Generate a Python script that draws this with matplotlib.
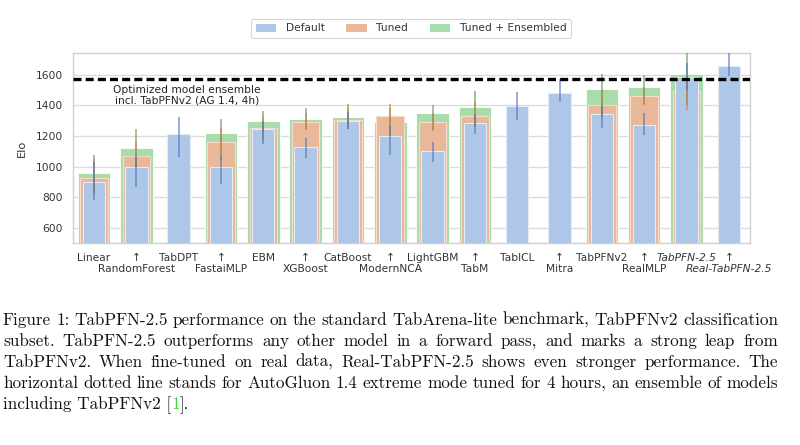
import numpy as np
import matplotlib
matplotlib.use("Agg")
import matplotlib.pyplot as plt
from matplotlib.patches import Patch

# ---------------- data ----------------
models = ["Linear", "RandomForest", "TabDPT", "FastaiMLP", "EBM", "XGBoost",
          "CatBoost", "ModernNCA", "LightGBM", "TabM", "TabICL", "Mitra",
          "TabPFNv2", "RealMLP", "TabPFN-2.5", "Real-TabPFN-2.5"]
italic_models = ["TabPFN-2.5", "Real-TabPFN-2.5"]
nan = np.nan
default_elo = [900, 1000, 1212, 1000, 1247, 1127, 1300, 1202, 1104, 1287, 1398, 1481, 1343, 1275, 1588, 1657]
default_lo  = [780, 868, 1062, 885, 1150, 1058, 1245, 1073, 1030, 1215, 1302, 1420, 1252, 1205, 1500, 1592]
default_hi  = [1030, 1070, 1325, 1060, 1300, 1188, 1360, 1265, 1162, 1335, 1487, 1575, 1400, 1350, 1680, 1745]
tuned_elo = [925, 1072, nan, 1162, 1255, 1292, 1305, 1330, 1292, 1332, nan, nan, 1405, 1460, 1492, nan]
tuned_lo  = [820, 990, nan, 1070, 1165, 1240, 1250, 1240, 1230, 1260, nan, nan, 1320, 1400, 1370, nan]
tuned_hi  = [1050, 1160, nan, 1250, 1330, 1350, 1380, 1412, 1350, 1420, nan, nan, 1500, 1520, 1560, nan]
ens_elo = [955, 1123, nan, 1220, 1297, 1308, 1326, 1293, 1348, 1390, nan, nan, 1510, 1520, 1607, nan]
ens_lo  = [830, 1000, nan, 1040, 1215, 1236, 1247, 1200, 1236, 1260, nan, nan, 1325, 1412, 1400, nan]
ens_hi  = [1078, 1248, nan, 1310, 1365, 1385, 1408, 1380, 1405, 1495, nan, nan, 1607, 1598, 1760, nan]
ag_ensemble_elo = 1575
series_names = ["Default", "Tuned", "Tuned + Ensembled"]
yticks = [600, 800, 1000, 1200, 1400, 1600]
caption_lines = [
    "Figure 1: TabPFN-2.5 performance on the standard TabArena-lite benchmark, TabPFNv2 classification",
    "subset.  TabPFN-2.5 outperforms any other model in a forward pass, and marks a strong leap from",
    "TabPFNv2.  When fine-tuned on real data, Real-TabPFN-2.5 shows even stronger performance.  The",
    "horizontal dotted line stands for AutoGluon 1.4 extreme mode tuned for 4 hours, an ensemble of models",
]
caption_last = [("including TabPFNv2 [", "#111111"), ("1", "#33dd33"), ("].", "#111111")]

# ---------------- style ----------------
c_blue, c_tan, c_green = "#aec6e8", "#e8b898", "#a8dcaa"
e_blue, e_tan, e_green = "#4f76c0", "#d0804a", "#5c9a55"
txt = "#333333"
fs = 7.7

fig = plt.figure(figsize=(8, 4.45), dpi=100)
ax = fig.add_axes([0.091, 0.454, 0.8465, 0.4276])

x = np.arange(len(models))
d = np.array(default_elo, float)
t = np.array(tuned_elo, float)
e = np.array(ens_elo, float)

ax.bar(x, e, width=0.77, color=c_green, edgecolor="white", linewidth=0.6, zorder=2)
ax.bar(x, t, width=0.65, color=c_tan, edgecolor="#f6dccb", linewidth=0.8, zorder=3)
ax.bar(x, d, width=0.53, color=c_blue, edgecolor="#e4ecf8", linewidth=0.8, zorder=4)

def eb(vals, lo, hi, col, z):
    v = np.array(vals, float)
    lo = np.array(lo, float)
    hi = np.array(hi, float)
    ax.errorbar(x, v, yerr=[v - lo, hi - v], fmt="none", ecolor=col,
                elinewidth=1.1, alpha=0.75, capsize=0, zorder=z)

eb(ens_elo, ens_lo, ens_hi, e_green, 5)
eb(tuned_elo, tuned_lo, tuned_hi, e_tan, 6)
eb(default_elo, default_lo, default_hi, e_blue, 7)

ax.axhline(ag_ensemble_elo, color="black", lw=2.4, linestyle=(0, (2.4, 1.25)), zorder=8)
ax.text(2.2, 1465, "Optimized model ensemble\nincl. TabPFNv2 (AG 1.4, 4h)",
        ha="center", va="center", fontsize=fs, color="#222222", linespacing=1.0, zorder=9)

ax.set_xlim(-0.5, len(models) - 0.5)
ax.set_ylim(500, 1745)
ax.set_yticks(yticks)
ax.set_yticklabels([str(v) for v in yticks], fontsize=fs, color=txt)
ax.grid(axis="y", color="#dcdcdc", lw=1.0, zorder=0)
ax.set_axisbelow(True)
for s in ax.spines.values():
    s.set_color("#d0d0d0")
    s.set_linewidth(1.0)
ax.tick_params(axis="both", length=0)
ax.tick_params(axis="y", pad=7)
ax.set_ylabel("Elo", fontsize=8.2, color=txt, labelpad=6)

# x tick labels: alternate rows, arrow marks the shifted ones
ax.set_xticks(x)
ax.set_xticklabels([""] * len(models))
xtr = ax.get_xaxis_transform()
row1_y, row2_y = -0.078, -0.139
for i, m in enumerate(models):
    style = "italic" if m in italic_models else "normal"
    if i % 2 == 0:
        ax.text(i, row1_y, m, transform=xtr, ha="center", va="center",
                fontsize=fs, color=txt, fontstyle=style)
    else:
        ax.text(i, row1_y, "\u2191", transform=xtr, ha="center", va="center",
                fontsize=fs, color=txt)
        ax.text(i, row2_y, m, transform=xtr, ha="center", va="center",
                fontsize=fs, color=txt, fontstyle=style)

handles = [Patch(facecolor=c, edgecolor="none") for c in (c_blue, c_tan, c_green)]
leg = fig.legend(handles, series_names, loc="center", bbox_to_anchor=(0.514, 0.936),
                 ncol=3, fontsize=fs, frameon=True, handlelength=1.9, handleheight=0.8,
                 columnspacing=2.0, borderpad=0.45, handletextpad=0.9)
leg.get_frame().set_edgecolor("#cccccc")
leg.get_frame().set_linewidth(0.8)
for tx in leg.get_texts():
    tx.set_color(txt)

# ---------------- caption (justified) ----------------
renderer = fig.canvas.get_renderer()
W = fig.bbox.width
x_left, x_right = 3.0, 778.0
cap_font = "cmr10"
cap_size = 12.3

def measure(s):
    tt = fig.text(0, 0, s, fontsize=cap_size, family=cap_font)
    w = tt.get_window_extent(renderer).width
    tt.remove()
    return w

line_y = [325, 346, 367, 388, 409]   # baselines in pixels from top
for ln, ypx in zip(caption_lines, line_y):
    words = ln.split()
    widths = [measure(w) for w in words]
    gap = ((x_right - x_left) - sum(widths)) / (len(words) - 1)
    xp = x_left
    for w, wd in zip(words, widths):
        fig.text(xp / W, 1 - ypx / 445.0, w, fontsize=cap_size, family=cap_font,
                 color="#111111", ha="left", va="baseline")
        xp += wd + gap

xp = x_left
for seg, col in caption_last:
    fig.text(xp / W, 1 - line_y[4] / 445.0, seg, fontsize=cap_size, family=cap_font,
             color=col, ha="left", va="baseline")
    xp += measure(seg)

fig.savefig("out.png", dpi=100)
